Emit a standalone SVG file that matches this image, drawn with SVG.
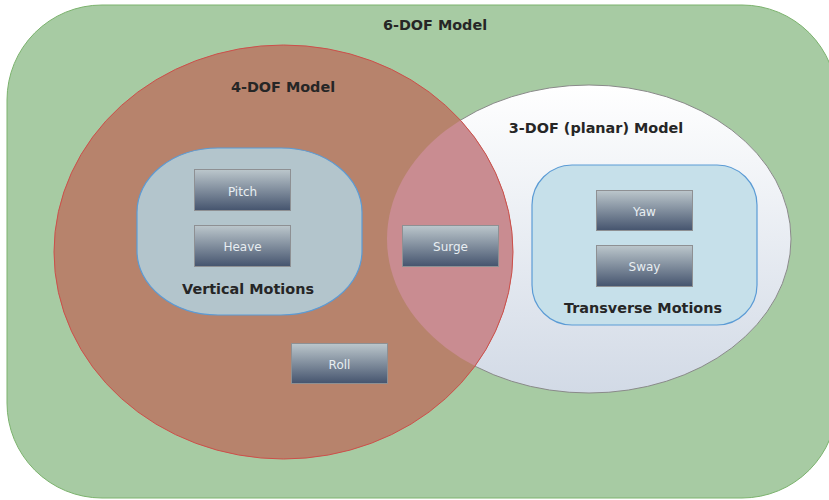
<svg xmlns="http://www.w3.org/2000/svg" width="829" height="500" viewBox="0 0 829 500">
  <style>
    .title { font-family: "DejaVu Sans", Verdana, sans-serif; font-weight: bold; font-size: 14.4px; fill: #262626; text-anchor: middle; }
    .box { fill: url(#boxGrad); stroke: #8e9093; stroke-width: 1; }
    .boxtext { font-family: "DejaVu Sans", Verdana, sans-serif; font-size: 12px; fill: #e8eef2; text-anchor: middle; }
    .group { stroke: #5b9bd5; stroke-width: 1.2; }
  </style>
  <defs>
    <linearGradient id="boxGrad" x1="0" y1="0" x2="0" y2="1">
      <stop offset="0" stop-color="#bcc7cc"/>
      <stop offset="1" stop-color="#45546e"/>
    </linearGradient>
    <linearGradient id="planarGrad" x1="0" y1="0" x2="0" y2="1">
      <stop offset="0" stop-color="#ffffff"/>
      <stop offset="1" stop-color="#d2dae6"/>
    </linearGradient>
    <clipPath id="planarClip">
      <ellipse cx="589" cy="239" rx="202" ry="154"/>
    </clipPath>
  </defs>

  <!-- outer 6-DOF region -->
  <g id="model6">
    <rect x="7" y="5" width="830" height="493" rx="95" ry="95" fill="#a7cba3" stroke="#7cb36e" stroke-width="1"/>
    <text class="title" x="435" y="30">6-DOF Model</text>
  </g>

  <!-- 3-DOF planar region -->
  <g id="model3">
    <ellipse cx="589" cy="239" rx="202" ry="154" fill="url(#planarGrad)" stroke="#8a8a8a" stroke-width="1"/>
  </g>

  <!-- 4-DOF region, with the shared part tinted -->
  <g id="model4">
    <ellipse cx="283.5" cy="252" rx="229.5" ry="207" fill="#b7836c"/>
    <ellipse cx="283.5" cy="252" rx="229.5" ry="207" fill="#c98c91" clip-path="url(#planarClip)"/>
    <ellipse cx="283.5" cy="252" rx="229.5" ry="207" fill="none" stroke="#cc4f4a" stroke-width="1"/>
    <text class="title" x="283" y="92">4-DOF Model</text>
  </g>

  <g id="model3-label">
    <text class="title" x="596" y="133">3-DOF (planar) Model</text>
  </g>

  <!-- motion groups -->
  <g id="vertical">
    <rect class="group" x="137" y="148" width="225" height="167" rx="81" ry="64" fill="#b3c5cc"/>
    <text class="title" x="248" y="294">Vertical Motions</text>
  </g>
  <g id="transverse">
    <rect class="group" x="532" y="165" width="225" height="160" rx="40" ry="40" fill="#c6e0ea"/>
    <text class="title" x="643" y="313">Transverse Motions</text>
  </g>

  <!-- degrees of freedom -->
  <g id="pitch">
    <rect class="box" x="194.5" y="169.5" width="96" height="41"/>
    <text class="boxtext" x="242.5" y="196">Pitch</text>
  </g>
  <g id="heave">
    <rect class="box" x="194.5" y="225.5" width="96" height="41"/>
    <text class="boxtext" x="242.5" y="251">Heave</text>
  </g>
  <g id="surge">
    <rect class="box" x="402.5" y="225.5" width="96" height="41"/>
    <text class="boxtext" x="450.5" y="251">Surge</text>
  </g>
  <g id="roll">
    <rect class="box" x="291.5" y="343.5" width="96" height="40"/>
    <text class="boxtext" x="339.5" y="369">Roll</text>
  </g>
  <g id="yaw">
    <rect class="box" x="596.5" y="190.5" width="96" height="40"/>
    <text class="boxtext" x="644.5" y="216">Yaw</text>
  </g>
  <g id="sway">
    <rect class="box" x="596.5" y="245.5" width="96" height="41"/>
    <text class="boxtext" x="644.5" y="271">Sway</text>
  </g>
</svg>
